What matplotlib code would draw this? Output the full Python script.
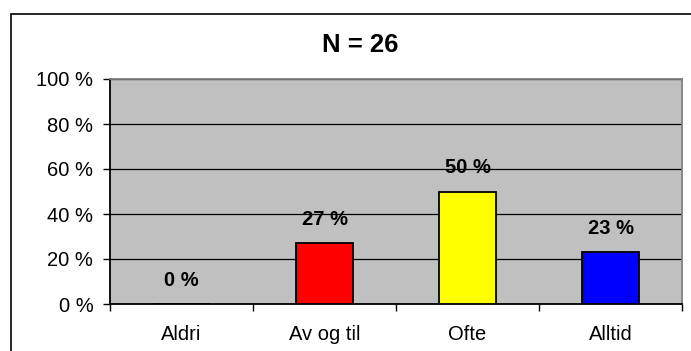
import matplotlib
matplotlib.use("Agg")
import matplotlib.pyplot as plt
from matplotlib.patches import Rectangle
from matplotlib.ticker import FixedLocator

plt.rcParams['font.family'] = ['Liberation Sans', 'DejaVu Sans']

categories = ["Aldri", "Av og til", "Ofte", "Alltid"]
values = [0, 27, 50, 23]
bar_colors = ["#808080", "#FF0000", "#FFFF00", "#0000FF"]
title = "N = 26"
y_ticks = [0, 20, 40, 60, 80, 100]
y_tick_labels = [f"{v} %" for v in y_ticks]

W, H = 691, 351
fig = plt.figure(figsize=(W / 100, H / 100), dpi=100)
fig.patch.set_facecolor("white")

# outer chart frame
fig.patches.append(Rectangle((11 / W, -0.1), 1.2, 1 - 14 / H + 0.1,
                             transform=fig.transFigure, fill=False,
                             edgecolor="black", linewidth=1.2))

left, right, top, bottom = 110, 682, 79, 304
ax = fig.add_axes([left / W, 1 - bottom / H, (right - left) / W, (bottom - top) / H])
ax.set_facecolor("#C0C0C0")

x = list(range(len(categories)))
ax.bar(x, values, width=0.4, color=bar_colors, edgecolor="black", linewidth=1.3, zorder=3)

for xi, v in zip(x, values):
    ax.annotate(f"{v} %", (xi, v), xytext=(0, 17), textcoords="offset points",
                ha="center", va="center", fontsize=14.5, fontweight="bold", zorder=4)

ax.set_xlim(-0.5, len(categories) - 0.5)
ax.set_ylim(0, 100)
ax.set_yticks(y_ticks)
ax.set_yticklabels(y_tick_labels, fontsize=14.5)
ax.yaxis.grid(True, color="black", linewidth=0.9, zorder=1)
ax.set_axisbelow(True)

ax.set_xticks(x)
ax.set_xticklabels(categories, fontsize=14.5)
ax.xaxis.set_minor_locator(FixedLocator([i - 0.5 for i in range(len(categories) + 1)]))
ax.tick_params(axis="x", which="major", length=0, pad=15)
ax.tick_params(axis="x", which="minor", length=5, width=1, color="black", direction="out")
ax.tick_params(axis="y", length=5, width=1, color="black", direction="out", pad=7)

ax.spines["left"].set_color("black")
ax.spines["bottom"].set_color("black")
ax.spines["top"].set_color("#808080")
ax.spines["right"].set_color("#808080")
for s in ax.spines.values():
    s.set_linewidth(1.3)

fig.text(360 / W, 1 - 45 / H, title, ha="center", va="center",
         fontsize=18.5, fontweight="bold")

fig.savefig("out.png", dpi=100)
